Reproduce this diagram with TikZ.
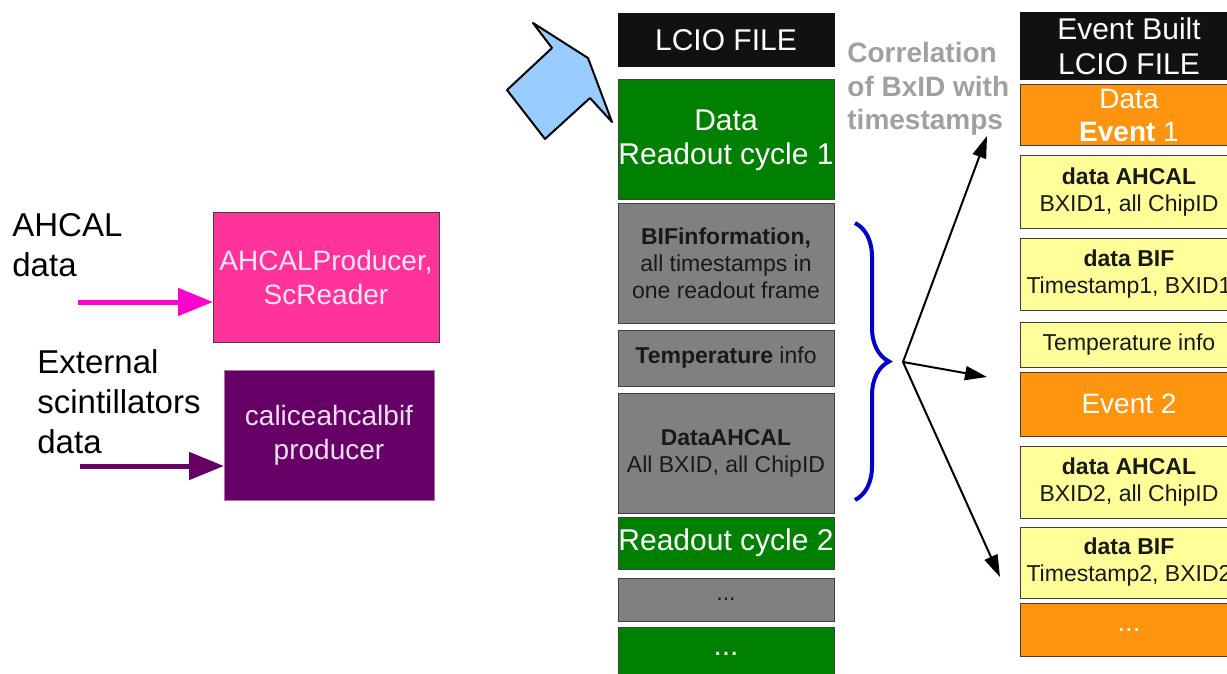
\documentclass[tikz,border=0pt]{standalone}
\usepackage{fontspec}
\setmainfont{Liberation Sans}
\usetikzlibrary{arrows.meta,positioning,decorations.pathreplacing}
\definecolor{LCIOBlack}{HTML}{111111}
\definecolor{CycleGreen}{HTML}{008000}
\definecolor{InfoGray}{HTML}{808080}
\definecolor{EventOrange}{HTML}{FF950E}
\definecolor{DataYellow}{HTML}{FFFF99}
\definecolor{ProdPink}{HTML}{FF3399}
\definecolor{ProdPinkText}{HTML}{FFE6F2}
\definecolor{ProdPurple}{HTML}{660066}
\definecolor{ProdPurpleText}{HTML}{F2DDF2}
\definecolor{FeedPink}{HTML}{FF00CC}
\definecolor{FileBlue}{HTML}{99CCFF}
\definecolor{BraceBlue}{HTML}{0000CC}
\definecolor{NoteGray}{HTML}{A0A0A0}

\begin{document}
\begin{tikzpicture}[x=0.5pt,y=-0.5pt,font=\fontsize{11.5}{13.5}\selectfont,>={Triangle[length=11pt,width=7pt]},
 block/.style={draw=black!75,line width=0.5pt,align=center,inner sep=0pt,outer sep=0pt,text=black!90},
 large/.style={font=\fontsize{15}{17}\selectfont,text=white},
 evtext/.style={font=\fontsize{14}{16.5}\selectfont,text=white},
 raw/.style={block,minimum width=108pt},
 built/.style={block,minimum width=109pt},
 label/.style={anchor=north west,inner sep=0pt,align=left,font=\fontsize{16.5}{20}\selectfont},
 feed/.style={line width=2.5pt,-{Triangle[length=17.5pt,width=13.5pt]}}]
\useasboundingbox (0,0) rectangle (1227,674);
\node[label] (ahcaltxt) at (12,213) {AHCAL\\data};
\node[label] (exttxt) at (37,349) {External\\scintillators\\data};
\node[block,fill=ProdPink,text=ProdPinkText,minimum width=113pt,minimum height=65pt,font=\fontsize{14}{17}\selectfont] (prod) at (326,277) {AHCALProducer,\\ScReader};
\node[block,draw=ProdPurple!55!white,fill=ProdPurple,text=ProdPurpleText,minimum width=105pt,minimum height=65pt,font=\fontsize{14}{17}\selectfont] (bifprod) at (329,435) {caliceahcalbif\\producer};
\coordinate (ahcalin) at (78,302); \coordinate (extin) at (80,466);
\draw[feed,FeedPink] (ahcalin) -- (ahcalin-|prod.west);
\draw[feed,ProdPurple] (extin) -- (extin-|bifprod.west);

\filldraw[fill=FileBlue,draw=black,line width=1pt,line join=round] (533,23) -- (588,58) -- (612,122) -- (590,98) -- (545,139) -- (507,90) -- (552,48) -- cycle;

\node[raw,fill=LCIOBlack,draw=LCIOBlack,large,minimum height=26.5pt] (lcio) at (726,40.5) {LCIO FILE};
\node[raw,fill=CycleGreen,large,minimum height=60pt,below=6.5pt of lcio] (cyc1) {Data\\Readout cycle 1};
\node[raw,fill=InfoGray,minimum height=59.5pt,below=2pt of cyc1] (bifinfo) {\textbf{BIFinformation,}\\all timestamps in\\one readout frame};
\node[raw,fill=InfoGray,minimum height=28pt,below=3.5pt of bifinfo] (tempinfo) {\textbf{Temperature} info};
\node[raw,fill=InfoGray,minimum height=60pt,below=3.5pt of tempinfo] (ahcalinfo) {\textbf{DataAHCAL}\\All BXID, all ChipID};
\node[raw,fill=CycleGreen,large,minimum height=26pt,below=2pt of ahcalinfo] (cyc2) {Readout cycle 2};
\node[raw,fill=InfoGray,minimum height=21.5pt,below=4.5pt of cyc2] (moreinfo) {...};
\node[raw,fill=CycleGreen,large,minimum height=27pt,below=3pt of moreinfo] (morecyc) {...};

\node[anchor=north west,inner sep=0pt,align=left,text=NoteGray,font=\fontsize{14}{16.75}\selectfont\bfseries] (corr) at (847,42) {Correlation\\of BxID with\\timestamps};

\node[built,fill=LCIOBlack,draw=LCIOBlack,font=\fontsize{15}{17.5}\selectfont,text=white,minimum height=33.5pt] (evb) at (1129,46.5) {Event Built\\LCIO FILE};
\node[built,fill=EventOrange,evtext,minimum height=30.5pt,below=2.5pt of evb] (ev1) {Data\\\textbf{Event} 1};
\node[built,fill=DataYellow,minimum height=36pt,below=5pt of ev1] (ahcal1) {\textbf{data AHCAL}\\BXID1, all ChipID};
\node[built,fill=DataYellow,minimum height=36pt,below=5pt of ahcal1] (bif1) {\textbf{data BIF}\\Timestamp1, BXID1};
\node[built,fill=DataYellow,minimum height=22.5pt,below=6pt of bif1] (temp1) {Temperature info};
\node[built,fill=EventOrange,evtext,minimum height=32pt,below=2.5pt of temp1] (ev2) {Event 2};
\node[built,fill=DataYellow,minimum height=36pt,below=5pt of ev2] (ahcal2) {\textbf{data AHCAL}\\BXID2, all ChipID};
\node[built,fill=DataYellow,minimum height=35.5pt,below=4.5pt of ahcal2] (bif2) {\textbf{data BIF}\\Timestamp2, BXID2};
\node[built,fill=EventOrange,evtext,minimum height=26.5pt,below=2.5pt of bif2] (ev3) {...};

\coordinate (bracetop) at (855,223); \coordinate (bracebot) at (855,500);
\draw[BraceBlue,line width=2pt,decorate,decoration={brace,amplitude=17pt}] (bracetop) -- (bracebot);
\coordinate (split) at (903,362);
\coordinate (corrend) at (987,136); \coordinate (ev2end) at (987,377); \coordinate (bif2end) at (1000,577);
\draw[->,line width=1pt] (split) -- (corrend);\draw[->,line width=1pt] (split) -- (ev2end);\draw[->,line width=1pt] (split) -- (bif2end);
\end{tikzpicture}
\end{document}
